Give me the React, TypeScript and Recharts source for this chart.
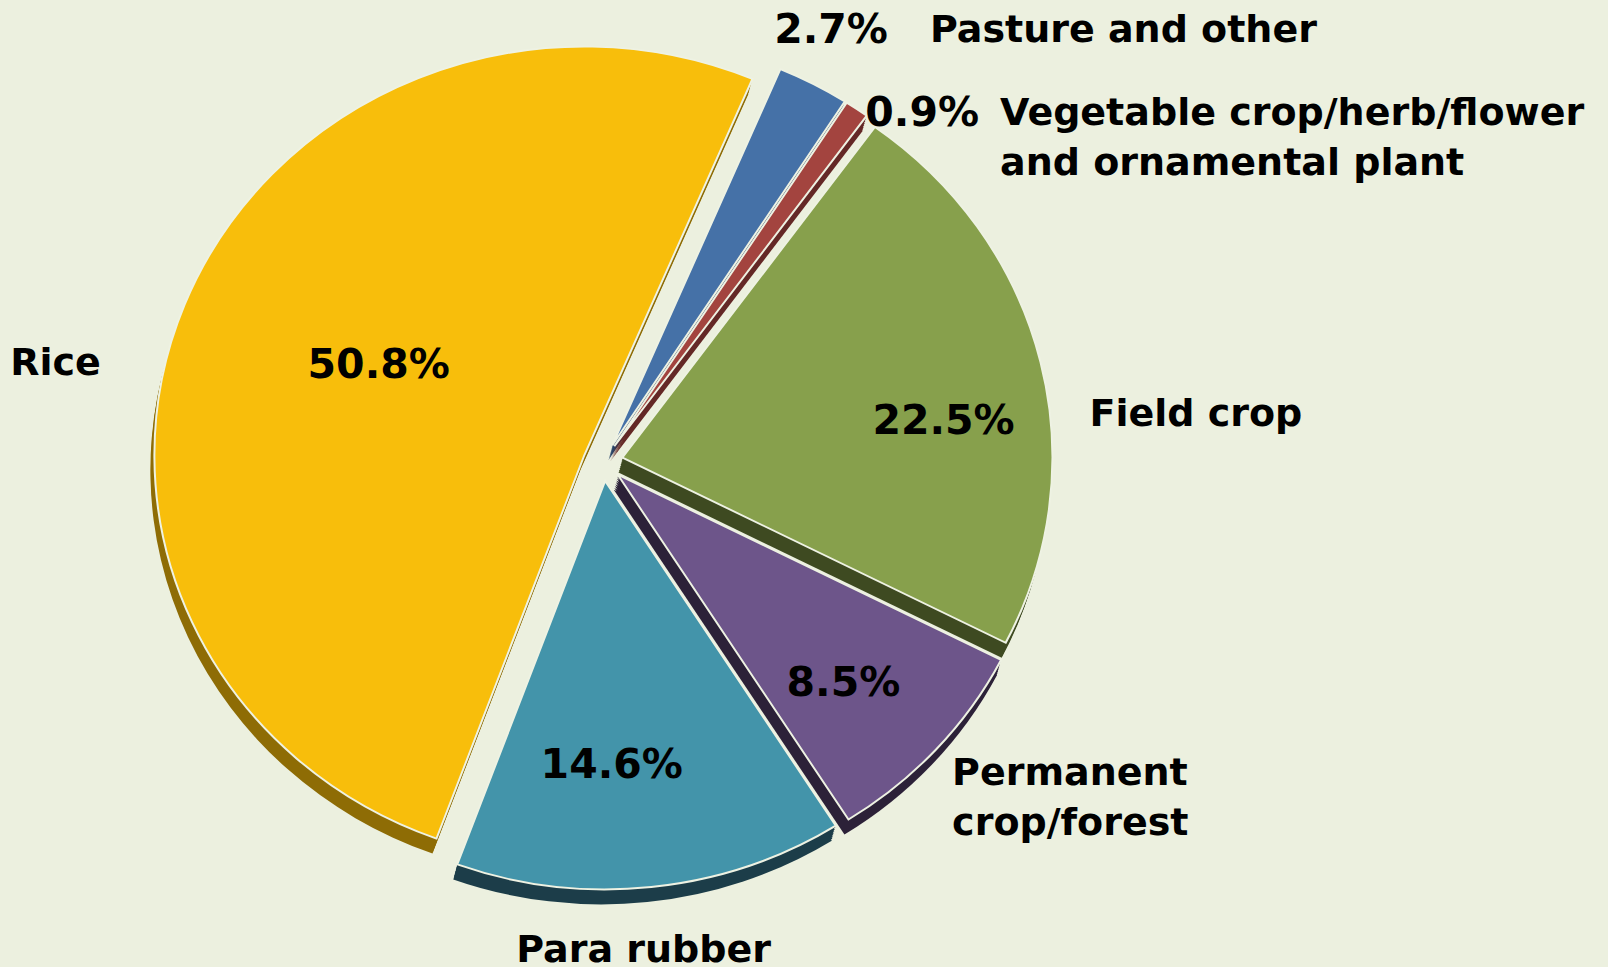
import React from "react";
import { PieChart, Pie, Cell, Sector } from "recharts";

// land use shares, clockwise from the top
const categories = [
  "Pasture and other",
  "Vegetable crop/herb/flower and ornamental plant",
  "Field crop",
  "Permanent crop/forest",
  "Para rubber",
  "Rice",
];
const shares = [2.7, 0.9, 22.5, 8.5, 14.6, 50.8];
const nameLines = [
  ["Pasture and other"],
  ["Vegetable crop/herb/flower", "and ornamental plant"],
  ["Field crop"],
  ["Permanent", "crop/forest"],
  ["Para rubber"],
  ["Rice"],
];

const FACE = ["#4571A7", "#A3443F", "#87A04C", "#6D558A", "#4394AA", "#F8BE0B"];
const SIDE = ["#2A4568", "#642826", "#3E4A21", "#2C2138", "#1C3D49", "#8E6C05"];

const data = categories.map((name, i) => ({ name, value: shares[i] }));

const RAD = Math.PI / 180;
const CX = 603;
const CY = 462;
const R = 430;
const SY = 0.95; // squash for the tilted look
const EXPLODE = 20;
const DEPTH_X = -4;
const DEPTH_Y = 15;
const STEPS = 8;
const LINE = 50;

// polar hints for the labels: k = radius factor, da = angle nudge
const LAYOUT: any[] = [
  { pk: 1.205, pda: -5.5, pAnchor: "end", inline: 42 },
  { pk: 1.195, pda: -12.7, pAnchor: "end", inline: 21 },
  { pk: 0.798, pda: -6.5, pAnchor: "middle", nk: 1.137, nda: -7.8, nAnchor: "start" },
  { pk: 0.758, pda: -0.2, pAnchor: "middle", nk: 1.126, nda: -1.6, nAnchor: "start" },
  { pk: 0.702, pda: -4.5, pAnchor: "middle", nk: 1.137, nda: -1.4, nAnchor: "middle" },
  { pk: 0.569, pda: -2.0, pAnchor: "middle", nk: 1.191, nda: 10.3, nAnchor: "end" },
];

const FONT = "'DejaVu Sans', Verdana, sans-serif";
const PCT_STYLE = { fontFamily: FONT, fontWeight: 700, fontSize: 41, fill: "#000" };
const NAME_STYLE = { fontFamily: FONT, fontWeight: 700, fontSize: 38, fill: "#000" };

function polar(cx: number, cy: number, r: number, a: number) {
  return { x: cx + r * Math.cos(a * RAD), y: cy - r * Math.sin(a * RAD) };
}

const squash = (cx: number, cy: number) =>
  `translate(${cx} ${cy}) scale(1 ${SY}) translate(${-cx} ${-cy})`;

function TopSlice(props: any) {
  const { cx, cy, innerRadius, outerRadius, startAngle, endAngle, fill } = props;
  const o = polar(cx, cy, EXPLODE, (startAngle + endAngle) / 2);
  return (
    <g transform={squash(cx, cy)}>
      <Sector
        cx={o.x}
        cy={o.y}
        innerRadius={innerRadius}
        outerRadius={outerRadius}
        startAngle={startAngle}
        endAngle={endAngle}
        fill={fill}
        stroke="#EEF2E3"
        strokeWidth={2}
      />
    </g>
  );
}

function DepthSlice(props: any) {
  const { cx, cy, innerRadius, outerRadius, startAngle, endAngle, fill } = props;
  const o = polar(cx, cy, EXPLODE, (startAngle + endAngle) / 2);
  const parts = [];
  for (let s = 1; s <= STEPS; s++) {
    parts.push(
      <g key={s} transform={`translate(${(DEPTH_X * s) / STEPS} ${(DEPTH_Y * s) / STEPS})`}>
        <g transform={squash(cx, cy)}>
          <Sector
            cx={o.x}
            cy={o.y}
            innerRadius={innerRadius}
            outerRadius={outerRadius}
            startAngle={startAngle}
            endAngle={endAngle}
            fill={fill}
          />
        </g>
      </g>
    );
  }
  return <g>{parts}</g>;
}

function renderLabel(props: any) {
  const { cx, cy, midAngle, outerRadius, index } = props;
  const L = LAYOUT[index];
  const p = polar(cx, cy, outerRadius * L.pk, midAngle + L.pda);
  const lines = nameLines[index];
  let nx: number, ny: number, anchor: string;
  if (L.inline) {
    nx = p.x + L.inline;
    ny = p.y;
    anchor = "start";
  } else {
    const n = polar(cx, cy, outerRadius * L.nk, midAngle + L.nda);
    nx = n.x;
    ny = n.y - ((lines.length - 1) * LINE) / 2;
    anchor = L.nAnchor;
  }
  return (
    <g key={`lbl-${index}`}>
      <text x={p.x} y={p.y} textAnchor={L.pAnchor} dominantBaseline="central" style={PCT_STYLE}>
        {shares[index].toFixed(1)}%
      </text>
      <text x={nx} y={ny} textAnchor={anchor as any} dominantBaseline="central" style={NAME_STYLE}>
        {lines.map((t, j) => (
          <tspan key={j} x={nx} dy={j === 0 ? 0 : LINE}>
            {t}
          </tspan>
        ))}
      </text>
    </g>
  );
}

export default function App() {
  return (
    <div style={{ width: 1608, height: 967, background: "#ECF0DF", overflow: "hidden" }}>
      <style>{"body{margin:0}"}</style>
      <PieChart width={1608} height={967} margin={{ top: 0, right: 0, bottom: 0, left: 0 }}>
        <Pie
          data={data}
          dataKey="value"
          cx={CX}
          cy={CY}
          outerRadius={R}
          startAngle={67}
          endAngle={-293}
          shape={DepthSlice}
          isAnimationActive={false}
          label={false}
          labelLine={false}
        >
          {data.map((d, i) => (
            <Cell key={`side-${i}`} fill={SIDE[i]} />
          ))}
        </Pie>
        <Pie
          data={data}
          dataKey="value"
          cx={CX}
          cy={CY}
          outerRadius={R}
          startAngle={67}
          endAngle={-293}
          shape={TopSlice}
          isAnimationActive={false}
          label={renderLabel}
          labelLine={false}
        >
          {data.map((d, i) => (
            <Cell key={`face-${i}`} fill={FACE[i]} />
          ))}
        </Pie>
      </PieChart>
    </div>
  );
}
